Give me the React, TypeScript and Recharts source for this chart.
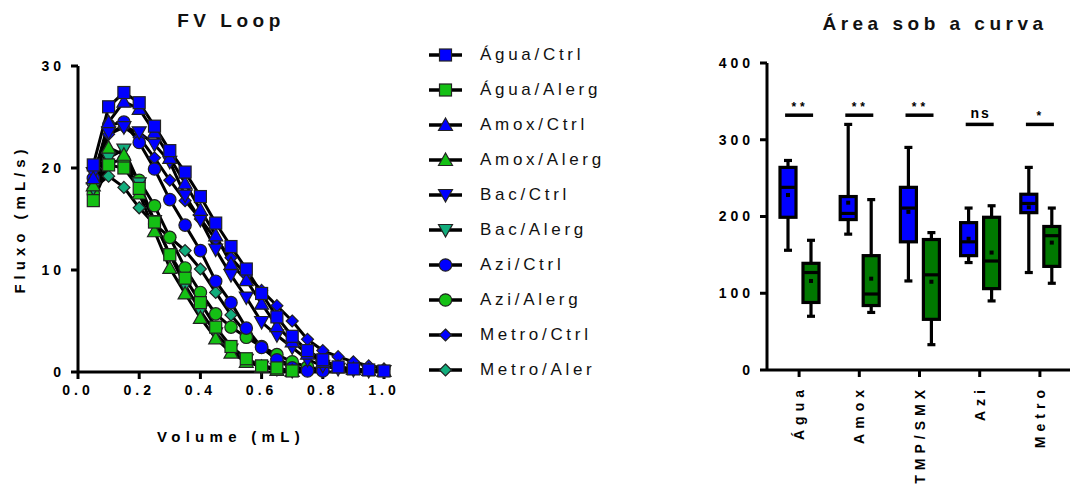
import React from "react";
import { Bar, ComposedChart, Line, LineChart, Scatter, XAxis, YAxis } from "recharts";

const BLUE = "#0000ff";
const GREEN = "#14c014";
const TEAL = "#12ad7c";
const BOX_BLUE = "#0000ff";
const BOX_GREEN = "#007800";
const FONT = '"Liberation Sans", Arial, sans-serif';

// FV loop: volume (mL) and flow (mL/s) per group
const volumes = [0.05, 0.1, 0.15, 0.2, 0.25, 0.3, 0.35, 0.4, 0.45, 0.5, 0.55, 0.6, 0.65, 0.7, 0.75, 0.8, 0.85, 0.9, 0.95, 1.0];

const aguaCtrl = [20.3, 26, 27.4, 26.4, 24.1, 21.7, 19.6, 17.2, 14.6, 12.3, 10.1, 7.7, 5.4, 3.5, 2.1, 1.2, 0.5, 0.3, 0.2, 0.1];
const aguaAlerg = [16.8, 20.3, 20, 18, 14.7, 11.5, 9.2, 6.8, 4.4, 2.5, 1.3, 0.6, 0.4, 0.1];
const amoxCtrl = [19, 24.5, 26.5, 25.8, 23.5, 21, 18.5, 15.9, 13.4, 10.6, 9.0, 6.7, 4.5, 3.0, 1.8, 1.0, 0.5, 0.3, 0.2, 0.1];
const amoxAlerg = [18.3, 22, 21.3, 17.5, 13.8, 10.2, 7.7, 5.3, 3.3, 1.9, 1.0, 0.5, 0.2, 0.1];
const bacCtrl = [19.5, 23.5, 24, 23.5, 22.3, 20.6, 17.3, 14.9, 12, 9.5, 7.3, 4.9, 3.6, 2.4, 1.2, 0.6, 0.3, 0.2, 0.1, 0.1];
const bacAlerg = [18, 21, 21.8, 18.5, 14.8, 11.5, 8.5, 6, 3.8, 2.2, 1.2, 0.5, 0.3, 0.1];
const aziCtrl = [19, 24.2, 24.5, 22.5, 19.9, 16.9, 14.4, 11.9, 8.9, 6.8, 4.3, 2.4, 1.2, 0.4, 0.1, 0.1];
const aziAlerg = [17.5, 20.5, 20.8, 18.8, 16.3, 13.2, 10.2, 7.8, 5.7, 4.4, 3.4, 2.5, 1.7, 1.0, 0.5, 0.2];
const metroCtrl = [18.5, 23.3, 24, 23, 21, 18.8, 16.8, 15, 13, 11.2, 9.5, 8, 6.5, 5.0, 3.2, 2.1, 1.5, 1.0, 0.6, 0.3];
const metroAler = [18, 19.2, 18.1, 16.1, 14.5, 13.2, 11.9, 10.1, 7.8, 5.6, 3.8, 2.4, 1.3, 0.6, 0.2];

const volumeTicks = [0, 0.2, 0.4, 0.6, 0.8, 1.0];
const flowTicks = [0, 10, 20, 30];

type MarkerKind = "square" | "up" | "down" | "circle" | "diamond";

const fvSeries: { key: string; name: string; values: number[]; fill: string; marker: MarkerKind }[] = [
  { key: "aguaCtrl", name: "Água/Ctrl", values: aguaCtrl, fill: BLUE, marker: "square" },
  { key: "aguaAlerg", name: "Água/Alerg", values: aguaAlerg, fill: GREEN, marker: "square" },
  { key: "amoxCtrl", name: "Amox/Ctrl", values: amoxCtrl, fill: BLUE, marker: "up" },
  { key: "amoxAlerg", name: "Amox/Alerg", values: amoxAlerg, fill: GREEN, marker: "up" },
  { key: "bacCtrl", name: "Bac/Ctrl", values: bacCtrl, fill: BLUE, marker: "down" },
  { key: "bacAlerg", name: "Bac/Alerg", values: bacAlerg, fill: TEAL, marker: "down" },
  { key: "aziCtrl", name: "Azi/Ctrl", values: aziCtrl, fill: BLUE, marker: "circle" },
  { key: "aziAlerg", name: "Azi/Alerg", values: aziAlerg, fill: GREEN, marker: "circle" },
  { key: "metroCtrl", name: "Metro/Ctrl", values: metroCtrl, fill: BLUE, marker: "diamond" },
  { key: "metroAler", name: "Metro/Aler", values: metroAler, fill: TEAL, marker: "diamond" },
];

// Área sob a curva: box plot stats per treatment
const boxCategories = ["Água", "Amox", "TMP/SMX", "Azi", "Metro"];
const ctrlMin = [156, 177, 116, 140, 127];
const ctrlQ1 = [199, 196, 167, 149, 205];
const ctrlMedian = [238, 204, 211, 167, 217];
const ctrlQ3 = [264, 226, 238, 192, 229];
const ctrlMax = [273, 320, 290, 211, 264];
const ctrlMean = [228, 218, 206, 171, 212];
const alergMin = [70, 75, 33, 90, 113];
const alergQ1 = [88, 84, 66, 106, 135];
const alergMedian = [127, 99, 124, 142, 175];
const alergQ3 = [139, 149, 170, 199, 187];
const alergMax = [169, 222, 179, 214, 211];
const alergMean = [116, 119, 115, 153, 166];
const sigLevel = [332, 332, 332, 320, 320];
const sigLabel = ["**", "**", "**", "ns", "*"];
const areaTicks = [0, 100, 200, 300, 400];

const fvData = volumes.map((v, i) => {
  const row: Record<string, number | null> = { volume: v };
  fvSeries.forEach((s) => {
    row[s.key] = i < s.values.length ? s.values[i] : null;
  });
  return row;
});

const boxData = boxCategories.map((name, i) => ({
  name,
  ctrl: { min: ctrlMin[i], q1: ctrlQ1[i], median: ctrlMedian[i], q3: ctrlQ3[i], max: ctrlMax[i], mean: ctrlMean[i] },
  alerg: { min: alergMin[i], q1: alergQ1[i], median: alergMedian[i], q3: alergQ3[i], max: alergMax[i], mean: alergMean[i] },
  sig: sigLevel[i],
  sigLabel: sigLabel[i],
}));

function Marker({ cx, cy, kind, fill }: { cx: number; cy: number; kind: MarkerKind; fill: string }) {
  const common = { fill, stroke: "#222", strokeWidth: 1.2 };
  switch (kind) {
    case "square":
      return <rect x={cx - 6} y={cy - 6} width={12} height={12} {...common} />;
    case "circle":
      return <circle cx={cx} cy={cy} r={6.2} {...common} />;
    case "up":
      return <polygon points={`${cx},${cy - 7} ${cx - 7},${cy + 5.5} ${cx + 7},${cy + 5.5}`} {...common} />;
    case "down":
      return <polygon points={`${cx},${cy + 7} ${cx - 7},${cy - 5.5} ${cx + 7},${cy - 5.5}`} {...common} />;
    default:
      return <polygon points={`${cx},${cy - 6} ${cx + 6},${cy} ${cx},${cy + 6} ${cx - 6},${cy}`} {...common} />;
  }
}

const tickStyle = { fill: "#000", fontSize: 14, fontWeight: 700, fontFamily: FONT, letterSpacing: 4 };
const axisLine = { stroke: "#000", strokeWidth: 3 };

function FvLegend() {
  return (
    <div style={{ position: "absolute", left: 426, top: 37, fontFamily: FONT }}>
      {fvSeries.map((s) => (
        <div key={s.key} style={{ height: 35, display: "flex", alignItems: "center" }}>
          <svg width={40} height={20} style={{ display: "block" }}>
            <line x1={3} y1={10} x2={36} y2={10} stroke="#000" strokeWidth={3.5} />
            <Marker cx={19.5} cy={10} kind={s.marker} fill={s.fill} />
          </svg>
          <span style={{ marginLeft: 14, fontSize: 17, letterSpacing: 3.7, color: "#111" }}>{s.name}</span>
        </div>
      ))}
    </div>
  );
}

function BoxShape(props: any) {
  const { x, y, width, height, payload, group } = props;
  if (x == null || y == null) return <g />;
  const st = payload[group];
  const fill = group === "ctrl" ? BOX_BLUE : BOX_GREEN;
  const top = Math.min(y, y + height);
  const span = Math.abs(height);
  const py = (v: number) => top + ((st.max - v) / (st.max - st.min)) * span;
  const cx = x + width / 2;
  const sw = 3.2;
  return (
    <g>
      <line x1={cx} y1={py(st.max)} x2={cx} y2={py(st.q3)} stroke="#000" strokeWidth={sw} />
      <line x1={cx} y1={py(st.q1)} x2={cx} y2={py(st.min)} stroke="#000" strokeWidth={sw} />
      <line x1={cx - 4} y1={py(st.max)} x2={cx + 4} y2={py(st.max)} stroke="#000" strokeWidth={sw} />
      <line x1={cx - 4} y1={py(st.min)} x2={cx + 4} y2={py(st.min)} stroke="#000" strokeWidth={sw} />
      <rect x={x} y={py(st.q3)} width={width} height={py(st.q1) - py(st.q3)} fill={fill} stroke="#000" strokeWidth={sw} />
      <line x1={x} y1={py(st.median)} x2={x + width} y2={py(st.median)} stroke="#000" strokeWidth={sw} />
      <rect x={cx - 2} y={py(st.mean) - 2} width={4} height={4} fill="#000" />
    </g>
  );
}

function SigShape(props: any) {
  const { cx, cy, payload } = props;
  if (cx == null || cy == null) return <g />;
  return (
    <g>
      <line x1={cx - 14} y1={cy} x2={cx + 14} y2={cy} stroke="#000" strokeWidth={3.5} />
      <text
        x={cx + 1}
        y={cy - (payload.sigLabel === "ns" ? 6 : 4)}
        textAnchor="middle"
        fontFamily={FONT}
        fontWeight={700}
        fontSize={payload.sigLabel === "ns" ? 14 : 12}
        letterSpacing={payload.sigLabel === "ns" ? 2 : 4}
        fill="#000"
      >
        {payload.sigLabel}
      </text>
    </g>
  );
}

function RotatedTick(props: any) {
  const { x, y, payload } = props;
  const ty = y + 2;
  return (
    <text
      x={x}
      y={ty}
      transform={`rotate(-90 ${x} ${ty})`}
      textAnchor="end"
      dominantBaseline="central"
      fontFamily={FONT}
      fontWeight={700}
      fontSize={14}
      letterSpacing={5}
      fill="#000"
    >
      {payload.value}
    </text>
  );
}

const titleStyle: React.CSSProperties = {
  position: "absolute",
  fontFamily: FONT,
  fontWeight: 700,
  fontSize: 19,
  letterSpacing: 4.5,
  color: "#111",
  whiteSpace: "nowrap",
  transform: "translateX(-50%)",
};

export default function App() {
  return (
    <div style={{ position: "absolute", left: 0, top: 0, width: 1070, height: 486, background: "#fff", overflow: "hidden" }}>
      <div style={{ ...titleStyle, left: 231, top: 10 }}>FV Loop</div>
      <div style={{ ...titleStyle, left: 935, top: 13 }}>Área sob a curva</div>

      <div style={{ position: "absolute", left: 0, top: 0 }}>
        <LineChart width={420} height={486} data={fvData} margin={{ top: 66, right: 36, bottom: 44, left: 0 }}>
          <XAxis
            type="number"
            dataKey="volume"
            domain={[0, 1]}
            ticks={volumeTicks}
            tickFormatter={(v: number) => v.toFixed(1)}
            height={70}
            tick={tickStyle}
            tickSize={7}
            tickMargin={6}
            axisLine={axisLine}
            tickLine={axisLine}
            label={{
              value: "Volume (mL)",
              position: "insideBottom",
              offset: 0,
              style: { fill: "#000", fontSize: 15, fontWeight: 700, fontFamily: FONT, letterSpacing: 5.3 },
            }}
          />
          <YAxis
            type="number"
            domain={[0, 30]}
            ticks={flowTicks}
            width={78}
            tick={tickStyle}
            tickSize={7}
            tickMargin={6}
            axisLine={axisLine}
            tickLine={axisLine}
            label={{
              content: () => (
                <text
                  x={19}
                  y={219}
                  transform="rotate(-90 19 219)"
                  textAnchor="middle"
                  dominantBaseline="central"
                  fontFamily={FONT}
                  fontWeight={700}
                  fontSize={15}
                  letterSpacing={5}
                  fill="#000"
                >
                  Fluxo (mL/s)
                </text>
              ),
            }}
          />
          {[...fvSeries].reverse().map((s) => (
            <Line
              key={s.key}
              dataKey={s.key}
              name={s.name}
              type="linear"
              stroke="#000"
              strokeWidth={3}
              connectNulls={false}
              isAnimationActive={false}
              activeDot={false}
              dot={(p: any) =>
                p.cx == null || p.cy == null || p.value == null ? (
                  <g key={`${s.key}-${p.index}`} />
                ) : (
                  <Marker key={`${s.key}-${p.index}`} cx={p.cx} cy={p.cy} kind={s.marker} fill={s.fill} />
                )
              }
            />
          ))}
        </LineChart>
      </div>

      <FvLegend />

      <div style={{ position: "absolute", left: 700, top: 0 }}>
        <ComposedChart
          width={370}
          height={486}
          data={boxData}
          margin={{ top: 63, right: 0, bottom: 56, left: 0 }}
          barSize={16}
          barGap={7}
        >
          <XAxis
            dataKey="name"
            type="category"
            height={60}
            padding={{ left: 2, right: 0 }}
            tick={<RotatedTick />}
            tickSize={7}
            tickMargin={6}
            axisLine={axisLine}
            tickLine={axisLine}
            interval={0}
          />
          <YAxis
            type="number"
            domain={[0, 400]}
            ticks={areaTicks}
            width={67}
            tick={tickStyle}
            tickSize={7}
            tickMargin={6}
            axisLine={axisLine}
            tickLine={axisLine}
          />
          <Bar
            dataKey={(d: any) => [d.ctrl.min, d.ctrl.max]}
            isAnimationActive={false}
            shape={(p: any) => <BoxShape {...p} group="ctrl" />}
          />
          <Bar
            dataKey={(d: any) => [d.alerg.min, d.alerg.max]}
            isAnimationActive={false}
            shape={(p: any) => <BoxShape {...p} group="alerg" />}
          />
          <Scatter dataKey="sig" isAnimationActive={false} shape={(p: any) => <SigShape {...p} />} />
        </ComposedChart>
      </div>
    </div>
  );
}
